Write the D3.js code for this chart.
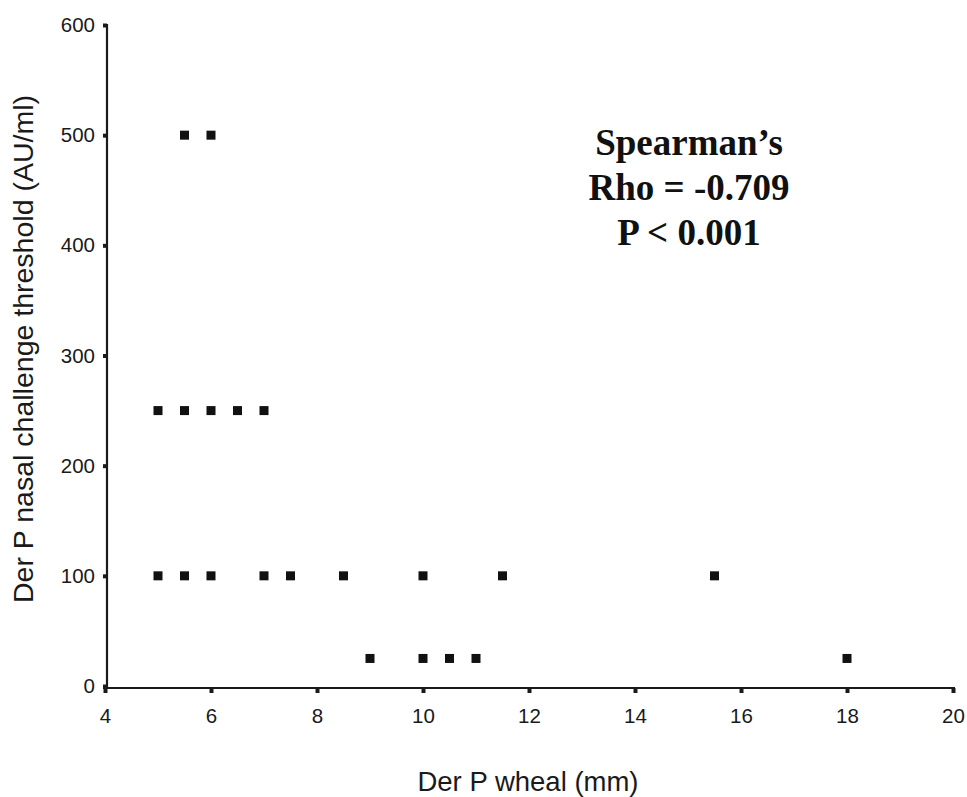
<!DOCTYPE html>
<html><head><meta charset="utf-8">
<script src="https://cdn.jsdelivr.net/npm/d3@7"></script>
<style>body{margin:0;background:#fff}svg{display:block}</style>
</head><body>
<svg id="c" width="967" height="797"></svg>
<script>
const wheal = [5.5, 6, 5, 5.5, 6, 6.5, 7, 5, 5.5, 6, 7, 7.5, 8.5, 10, 11.5, 15.5, 9, 10, 10.5, 11, 18];
const threshold = [500, 500, 250, 250, 250, 250, 250, 100, 100, 100, 100, 100, 100, 100, 100, 100, 25, 25, 25, 25, 25];
const xTicks = [4, 6, 8, 10, 12, 14, 16, 18, 20];
const yTicks = [0, 100, 200, 300, 400, 500, 600];
const annotation = ["Spearman\u2019s", "Rho = -0.709", "P < 0.001"];

const svg = d3.select("#c");
const x = d3.scaleLinear().domain([4, 20]).range([105, 953]);
const y = d3.scaleLinear().domain([0, 600]).range([686, 25]);
const font = "Arial, 'Liberation Sans', sans-serif";
const ink = "#1a1a1a";

// X axis
const xa = svg.append("g").attr("transform", "translate(0,688)")
  .call(d3.axisBottom(x).tickValues(xTicks).tickSize(5).tickPadding(15).tickFormat(d3.format("d")));
xa.select(".domain").attr("stroke", ink).attr("stroke-width", 2.2).attr("d", "M103,0H955");
xa.selectAll(".tick line").attr("stroke", ink).attr("stroke-width", 4);
xa.selectAll(".tick text").attr("font-family", font).attr("font-size", 20.5).attr("fill", ink);

// Y axis
const ya = svg.append("g").attr("transform", "translate(107,0)")
  .call(d3.axisLeft(y).tickValues(yTicks).tickSize(4).tickPadding(8).tickFormat(d3.format("d")));
ya.select(".domain").attr("stroke", ink).attr("stroke-width", 2.2).attr("d", "M0,24V689");
ya.selectAll(".tick line").attr("stroke", ink).attr("stroke-width", 4);
ya.selectAll(".tick text").attr("font-family", font).attr("font-size", 20.5).attr("fill", ink);

// Points
const pts = wheal.map((w, i) => ({ w, t: threshold[i] }));
const s = 9;
svg.append("g").selectAll("rect").data(pts).join("rect")
  .attr("x", d => x(d.w) - s / 2).attr("y", d => y(d.t) - s / 2)
  .attr("width", s).attr("height", s).attr("fill", "#111");

// Axis titles
svg.append("text").attr("x", 528).attr("y", 791).attr("text-anchor", "middle")
  .attr("font-family", font).attr("font-size", 27.5).attr("fill", ink).text("Der P wheal (mm)");
svg.append("text").attr("transform", "translate(33,349) rotate(-90)").attr("text-anchor", "middle")
  .attr("font-family", font).attr("font-size", 28.5).attr("fill", ink).text("Der P nasal challenge threshold (AU/ml)");

// Annotation
svg.append("g").selectAll("text").data(annotation).join("text")
  .attr("x", 689).attr("y", (d, i) => 155 + i * 45).attr("text-anchor", "middle")
  .attr("font-family", "'Liberation Serif', 'Times New Roman', serif").attr("font-weight", "bold")
  .attr("font-size", 37).attr("fill", "#111").text(d => d);
</script>
</body></html>
